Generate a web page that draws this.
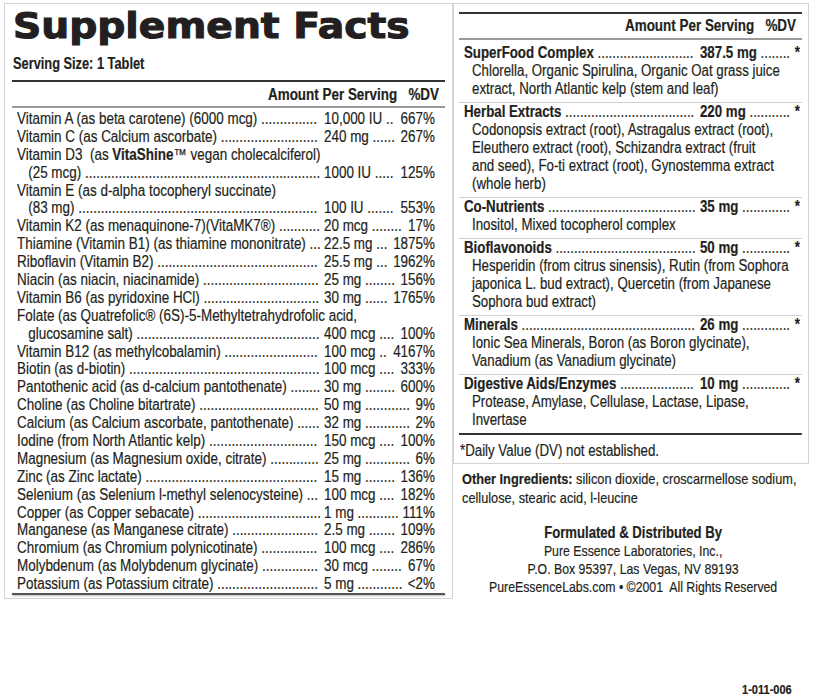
<!DOCTYPE html>
<html>
<head>
<meta charset="utf-8">
<script src="https://cdn.jsdelivr.net/npm/chart.js@4"></script>
<style>
  body { margin: 0; background: #fff; }
  #page { position: relative; width: 813px; height: 700px; overflow: hidden; color: #231f20;
          font-family: "Liberation Sans", Arial, sans-serif; font-size: 16px; -webkit-text-stroke: 0.2px #231f20; }
  .abs { position: absolute; white-space: nowrap; transform-origin: 0 0; }
  .box { position: absolute; border: 1px solid #d4d4d4; }
  .rule { position: absolute; height: 2px; background: #333; }
  .thin { position: absolute; height: 2px; background: #9a9a9a; }
  .line { height: 17.9px; line-height: 17.9px; white-space: nowrap; }
  .row { display: flex; }
  .c1, .c2 { display: flex; overflow: hidden; flex: none; }
  .lead { flex: 1 1 auto; min-width: 0; overflow: hidden; white-space: nowrap; }
  .grp { padding-bottom: 4px; border-bottom: 1px solid #d0d0d0; }
  .grp .line { height: 18px; line-height: 18px; }
</style>
</head>
<body>
<div id="page">
  <div class="box" style="left:4px; top:3px; width:447px; height:594px;"></div>
  <div class="box" style="left:453px; top:3px; width:354px; height:459px;"></div>

  <div class="abs" style="left:13px; top:4px; font-family:'DejaVu Sans'; font-weight:bold; font-size:36px; line-height:44px; transform:scaleX(1.09); -webkit-text-stroke:1.1px #231f20;">Supplement Facts</div>
  <div class="abs" style="left:13px; top:55px; font-weight:bold; line-height:18px; transform:scaleX(0.8);">Serving Size: 1 Tablet</div>
  <div class="rule" style="left:12px; top:80px; width:433px;"></div>
  <div class="abs" style="left:268px; top:86px; font-weight:bold; line-height:18px; transform:scaleX(0.84);">Amount Per Serving&nbsp;&nbsp;&nbsp;%DV</div>
  <div class="thin" style="left:12px; top:106px; width:433px;"></div>
  <div id="left" class="abs" style="left:17px; top:110px;"></div>
  <div class="rule" style="left:12px; top:593px; width:433px; background:#555; box-shadow:0 1px 2px #bbb;"></div>

  <div class="rule" style="left:459px; top:12px; width:343px;"></div>
  <div class="abs" style="left:625px; top:17px; font-weight:bold; line-height:18px; transform:scaleX(0.84);">Amount Per Serving&nbsp;&nbsp;&nbsp;%DV</div>
  <div class="thin" style="left:459px; top:38px; width:343px;"></div>
  <div id="right" class="abs" style="left:459px; top:44px;"></div>

  <div id="otherIng" class="abs" style="left:462px; top:469px; font-size:15px; line-height:19px; transform:scaleX(0.85);"></div>
  <div id="maker" class="abs" style="left:633px; top:524px; font-size:15px; line-height:18px; text-align:center; transform:scaleX(0.82);"></div>
  <div id="lotCode" class="abs" style="left:746px; top:682px; font-size:13px; font-weight:bold; line-height:16px; transform:scaleX(0.85);"></div>
</div>

<script>
// left panel: vitamins and minerals ('|' marks where the name wraps)
const nutrientNames = [
  'Vitamin A (as beta carotene) (6000 mcg)',
  'Vitamin C (as Calcium ascorbate)',
  'Vitamin D3 &nbsp;(as <b>VitaShine</b>™ vegan cholecalciferol)|&nbsp;&nbsp;&nbsp;(25 mcg)',
  'Vitamin E (as d-alpha tocopheryl succinate)|&nbsp;&nbsp;&nbsp;(83 mg)',
  'Vitamin K2 (as menaquinone-7)(VitaMK7®)',
  'Thiamine (Vitamin B1) (as thiamine mononitrate)',
  'Riboflavin (Vitamin B2)',
  'Niacin (as niacin, niacinamide)',
  'Vitamin B6 (as pyridoxine HCl)',
  'Folate (as Quatrefolic® (6S)-5-Methyltetrahydrofolic acid,|&nbsp;&nbsp;&nbsp;glucosamine salt)',
  'Vitamin B12 (as methylcobalamin)',
  'Biotin (as d-biotin)',
  'Pantothenic acid (as d-calcium pantothenate)',
  'Choline (as Choline bitartrate)',
  'Calcium (as Calcium ascorbate, pantothenate)',
  'Iodine (from North Atlantic kelp)',
  'Magnesium (as Magnesium oxide, citrate)',
  'Zinc (as Zinc lactate)',
  'Selenium (as Selenium l-methyl selenocysteine)',
  'Copper (as Copper sebacate)',
  'Manganese (as Manganese citrate)',
  'Chromium (as Chromium polynicotinate)',
  'Molybdenum (as Molybdenum glycinate)',
  'Potassium (as Potassium citrate)'
];
const nutrientAmounts = ['10,000 IU', '240 mg', '1000 IU', '100 IU', '20 mcg', '22.5 mg', '25.5 mg',
  '25 mg', '30 mg', '400 mcg', '100 mcg', '100 mcg', '30 mg', '50 mg', '32 mg', '150 mcg', '25 mg',
  '15 mg', '100 mcg', '1 mg', '2.5 mg', '100 mcg', '30 mcg', '5 mg'];
const nutrientDV = ['667%', '267%', '125%', '553%', '17%', '1875%', '1962%', '156%', '1765%', '100%',
  '4167%', '333%', '600%', '9%', '2%', '100%', '6%', '136%', '182%', '111%', '109%', '286%', '67%', '<2%'];

// right panel: blends
const blendNames = ['SuperFood Complex', 'Herbal Extracts', 'Co-Nutrients', 'Bioflavonoids', 'Minerals', 'Digestive Aids/Enzymes'];
const blendAmounts = ['387.5 mg', '220 mg', '35 mg', '50 mg', '26 mg', '10 mg'];
const blendDV = ['*', '*', '*', '*', '*', '*'];
const blendContents = [
  'Chlorella, Organic Spirulina, Organic Oat grass juice|extract, North Atlantic kelp (stem and leaf)',
  'Codonopsis extract (root), Astragalus extract (root),|Eleuthero extract (root), Schizandra extract (fruit|and seed), Fo-ti extract (root), Gynostemma extract|(whole herb)',
  'Inositol, Mixed tocopherol complex',
  'Hesperidin (from citrus sinensis), Rutin (from Sophora|japonica L. bud extract), Quercetin (from Japanese|Sophora bud extract)',
  'Ionic Sea Minerals, Boron (as Boron glycinate),|Vanadium (as Vanadium glycinate)',
  'Protease, Amylase, Cellulase, Lactase, Lipase,|Invertase'
];

const footNote = '*Daily Value (DV) not established.';
const otherIngredients = ['silicon dioxide, croscarmellose sodium,', 'cellulose, stearic acid, l-leucine'];
const makerLines = ['Pure Essence Laboratories, Inc.,', 'P.O. Box 95397, Las Vegas, NV 89193', 'PureEssenceLabs.com • ©2001&nbsp; All Rights Reserved'];
const lot = '1-011-006';

const kLeft = 0.84, kRight = 0.83; // horizontal condensing of the label font

function leaderRow(name, amount, dv, c1w, c2w, gap, k) {
  return '<div class="line row">' +
    '<div class="c1" style="width:' + (c1w / k) + 'px"><span>' + name + '&nbsp;</span><span class="lead"></span></div>' +
    '<div style="width:' + (gap / k) + 'px;flex:none"></div>' +
    '<div class="c2" style="width:' + (c2w / k) + 'px"><span>' + amount + '&nbsp;</span><span class="lead"></span><span>&nbsp;' + dv + '</span></div>' +
    '</div>';
}

var html = '';
nutrientNames.forEach((n, i) => {
  var parts = n.split('|');
  for (var j = 0; j < parts.length - 1; j++) html += '<div class="line">' + parts[j] + '</div>';
  html += leaderRow(parts[parts.length - 1], nutrientAmounts[i], nutrientDV[i], 304, 111, 3, kLeft);
});
var left = document.getElementById('left');
left.style.width = (418 / kLeft) + 'px';
left.style.transform = 'scaleX(' + kLeft + ')';
left.innerHTML = html;

html = '';
blendNames.forEach((n, i) => {
  var last = i == blendNames.length - 1;
  html += '<div class="grp"' + (last ? ' style="border-bottom:none"' : '') + '>';
  html += '<div style="padding-left:' + (5 / kRight) + 'px">' +
    leaderRow('<b>' + n + '</b>', '<b>' + blendAmounts[i] + '</b>', '<b>' + blendDV[i] + '</b>', 233, 100, 3, kRight) + '</div>';
  blendContents[i].split('|').forEach(l => {
    html += '<div class="line" style="padding-left:' + (13 / kRight) + 'px">' + l + '</div>';
  });
  html += '</div>';
});
html += '<div style="height:2px;background:#333"></div>';
html += '<div class="line" style="margin-top:7px; padding-left:' + (1 / kRight) + 'px">' + footNote + '</div>';
var right = document.getElementById('right');
right.style.width = (343 / kRight) + 'px';
right.style.transform = 'scaleX(' + kRight + ')';
right.innerHTML = html;

document.getElementById('otherIng').innerHTML = '<b>Other Ingredients:</b> ' + otherIngredients.join('<br>');
var maker = document.getElementById('maker');
maker.innerHTML = '<b style="font-size:16px">Formulated &amp; Distributed By</b><br>' + makerLines.join('<br>');
maker.style.left = (633 - maker.offsetWidth * 0.82 / 2) + 'px';
var lotEl = document.getElementById('lotCode');
lotEl.textContent = lot;
lotEl.style.left = (792 - lotEl.offsetWidth * 0.85) + 'px';

// fill each leader with as many dots as fit
document.querySelectorAll('.lead').forEach(el => {
  var avail = el.offsetWidth;
  var probe = document.createElement('span');
  probe.style.position = 'absolute';
  probe.style.visibility = 'hidden';
  probe.textContent = '.'.repeat(100);
  el.parentNode.appendChild(probe);
  var dw = probe.offsetWidth / 100;
  probe.remove();
  el.textContent = '.'.repeat(Math.max(0, Math.floor(avail / dw)));
});
</script>
</body>
</html>
